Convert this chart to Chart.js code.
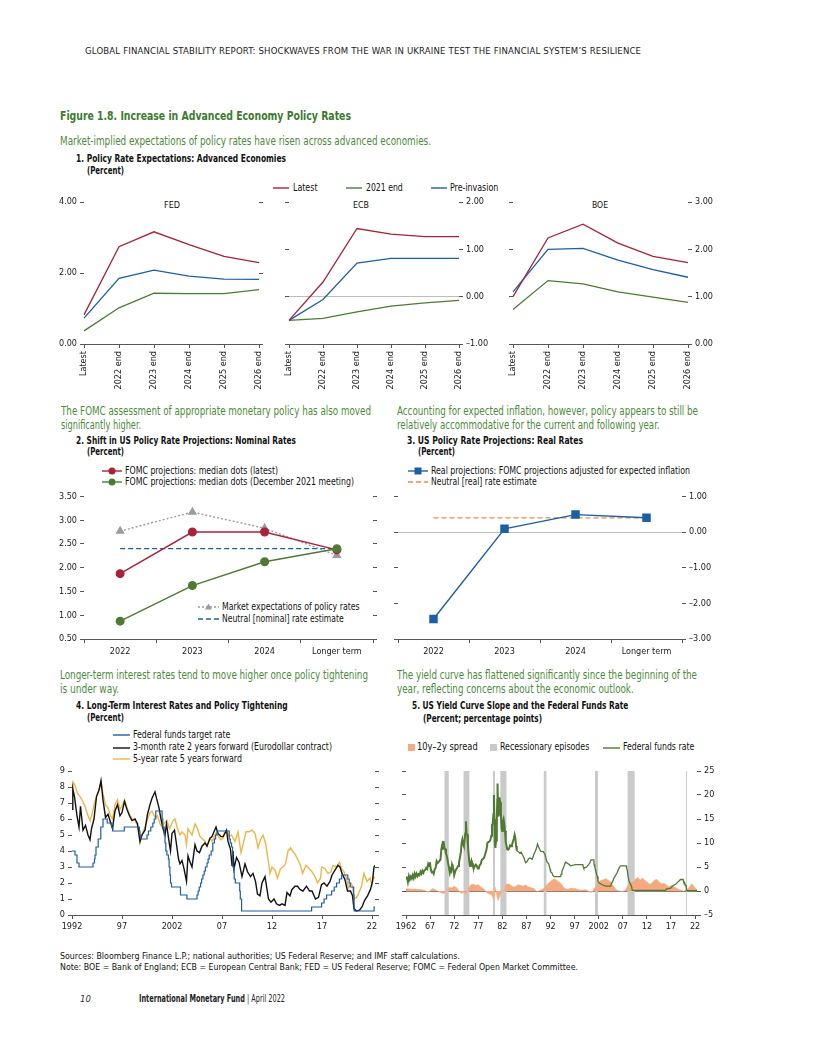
<!DOCTYPE html>
<html><head><meta charset="utf-8">
<script src="https://cdn.jsdelivr.net/npm/chart.js@4.4.1/dist/chart.umd.min.js"></script>
<style>
html,body{margin:0;padding:0;background:#fff}
body{width:816px;height:1056px;position:relative;overflow:hidden;font-family:"Liberation Sans Narrow","Arial Narrow","DejaVu Sans Condensed",sans-serif;color:#111}
.t{position:absolute;white-space:nowrap;line-height:1;transform-origin:0 50%}
.lead{color:#4d8a3c;font-size:12px}
.ttl{font-weight:bold;font-size:10px;color:#111}
.lg{font-size:10px;color:#111}
.sub{font-size:9.5px;color:#111}
.box{position:absolute}
svg.k{position:absolute;overflow:visible}
</style></head><body>

<div class="t" id="hdr" style="left:85px;top:46px;font-size:9.5px;color:#222">GLOBAL FINANCIAL STABILITY REPORT: SHOCKWAVES FROM THE WAR IN UKRAINE TEST THE FINANCIAL SYSTEM’S RESILIENCE</div>
<div class="t" data-w="291" style="left:60px;top:109px;font-size:13px;font-weight:bold;color:#3c7a2f">Figure 1.8. Increase in Advanced Economy Policy Rates</div>
<div class="t lead" data-w="371" style="left:60px;top:134.5px">Market-implied expectations of policy rates have risen across advanced economies.</div>
<div class="t ttl" data-w="210" style="left:76px;top:154px">1. Policy Rate Expectations: Advanced Economies</div>
<div class="t ttl" data-w="37" style="left:87px;top:166px">(Percent)</div>

<svg class="k" style="left:273px;top:185px" width="16" height="6"><line x1="0" y1="3" x2="16" y2="3" stroke="#a6233a" stroke-width="1.4"/></svg>
<div class="t lg" data-w="24.5" style="left:293px;top:183px">Latest</div>
<svg class="k" style="left:346px;top:185px" width="16" height="6"><line x1="0" y1="3" x2="16" y2="3" stroke="#4f7a33" stroke-width="1.4"/></svg>
<div class="t lg" data-w="36.7" style="left:366px;top:183px">2021 end</div>
<svg class="k" style="left:431px;top:185px" width="16" height="6"><line x1="0" y1="3" x2="16" y2="3" stroke="#1d5fa3" stroke-width="1.4"/></svg>
<div class="t lg" data-w="48.3" style="left:450px;top:183px">Pre-invasion</div>
<div class="t sub" data-w="16" data-c="172" style="top:200px">FED</div>
<div class="t sub" data-w="16" data-c="361" style="top:200px">ECB</div>
<div class="t sub" data-w="16" data-c="600" style="top:200px">BOE</div>

<div class="t lead" data-w="310" style="left:61px;top:404.5px">The FOMC assessment of appropriate monetary policy has also moved</div>
<div class="t lead" data-w="80" style="left:61px;top:419px">significantly higher.</div>
<div class="t ttl" data-w="220" style="left:76px;top:436px">2. Shift in US Policy Rate Projections: Nominal Rates</div>
<div class="t ttl" data-w="37" style="left:87px;top:447px">(Percent)</div>
<svg class="k" style="left:102px;top:466px" width="20" height="10"><line x1="0" y1="5" x2="20" y2="5" stroke="#a6233a" stroke-width="1.4"/><circle cx="10" cy="5" r="3.5" fill="#a6233a"/></svg>
<div class="t lg" data-w="153" style="left:125px;top:465.5px">FOMC projections: median dots (latest)</div>
<svg class="k" style="left:102px;top:477px" width="20" height="10"><line x1="0" y1="5" x2="20" y2="5" stroke="#4f7a33" stroke-width="1.4"/><circle cx="10" cy="5" r="3.5" fill="#4f7a33"/></svg>
<div class="t lg" data-w="229" style="left:125px;top:476.5px">FOMC projections: median dots (December 2021 meeting)</div>
<svg class="k" style="left:198px;top:602px" width="21" height="10"><line x1="0" y1="5" x2="21" y2="5" stroke="#9c9c9c" stroke-width="1.4" stroke-dasharray="2,2"/><polygon points="10.5,1.5 14,7.5 7,7.5" fill="#9c9c9c"/></svg>
<div class="t lg" data-w="137.7" style="left:222px;top:602px">Market expectations of policy rates</div>
<svg class="k" style="left:198px;top:614px" width="21" height="10"><line x1="0" y1="5" x2="21" y2="5" stroke="#1d5fa3" stroke-width="1.3" stroke-dasharray="5,3"/></svg>
<div class="t lg" data-w="121.7" style="left:222px;top:614px">Neutral [nominal] rate estimate</div>

<div class="t lead" data-w="301" style="left:397px;top:404.5px">Accounting for expected inflation, however, policy appears to still be</div>
<div class="t lead" data-w="262.6" style="left:397px;top:419px">relatively accommodative for the current and following year.</div>
<div class="t ttl" data-w="176" style="left:407px;top:436px">3. US Policy Rate Projections: Real Rates</div>
<div class="t ttl" data-w="37" style="left:418px;top:447px">(Percent)</div>
<svg class="k" style="left:408px;top:466px" width="20" height="10"><line x1="0" y1="5" x2="20" y2="5" stroke="#1d5fa3" stroke-width="1.4"/><rect x="6.5" y="1.5" width="7" height="7" fill="#1d5fa3"/></svg>
<div class="t lg" data-w="259" style="left:431px;top:465.5px">Real projections: FOMC projections adjusted for expected inflation</div>
<svg class="k" style="left:408px;top:477px" width="20" height="10"><line x1="0" y1="5" x2="20" y2="5" stroke="#f0894a" stroke-width="1.3" stroke-dasharray="5,3"/></svg>
<div class="t lg" data-w="105.7" style="left:431px;top:476.5px">Neutral [real] rate estimate</div>

<div class="t lead" data-w="308" style="left:60px;top:669px">Longer-term interest rates tend to move higher once policy tightening</div>
<div class="t lead" data-w="59" style="left:60px;top:683px">is under way.</div>
<div class="t ttl" data-w="211.7" style="left:76px;top:701px">4. Long-Term Interest Rates and Policy Tightening</div>
<div class="t ttl" data-w="37" style="left:87px;top:713px">(Percent)</div>
<svg class="k" style="left:113px;top:732px" width="17" height="6"><line x1="0" y1="3" x2="17" y2="3" stroke="#1d5fa3" stroke-width="1.4"/></svg>
<div class="t lg" data-w="97.3" style="left:133px;top:730px">Federal funds target rate</div>
<svg class="k" style="left:113px;top:744.5px" width="17" height="6"><line x1="0" y1="3" x2="17" y2="3" stroke="#111" stroke-width="1.4"/></svg>
<div class="t lg" data-w="199" style="left:133px;top:742px">3-month rate 2 years forward (Eurodollar contract)</div>
<svg class="k" style="left:113px;top:756px" width="17" height="6"><line x1="0" y1="3" x2="17" y2="3" stroke="#efb548" stroke-width="1.4"/></svg>
<div class="t lg" data-w="109" style="left:133px;top:754px">5-year rate 5 years forward</div>

<div class="t lead" data-w="300" style="left:397px;top:669px">The yield curve has flattened significantly since the beginning of the</div>
<div class="t lead" data-w="236.7" style="left:397px;top:683px">year, reflecting concerns about the economic outlook.</div>
<div class="t ttl" data-w="216.3" style="left:412px;top:701px">5. US Yield Curve Slope and the Federal Funds Rate</div>
<div class="t ttl" data-w="119" style="left:423px;top:713.5px">(Percent; percentage points)</div>
<svg class="k" style="left:408px;top:744px" width="7" height="7"><rect x="0" y="0" width="7" height="7" fill="#f5a97e"/></svg>
<div class="t lg" data-w="60.7" style="left:417px;top:742px">10y–2y spread</div>
<svg class="k" style="left:490px;top:744px" width="7" height="7"><rect x="0" y="0" width="7" height="7" fill="#c8c8c8"/></svg>
<div class="t lg" data-w="89.3" style="left:500px;top:742px">Recessionary episodes</div>
<svg class="k" style="left:603px;top:744.5px" width="17" height="6"><line x1="0" y1="3" x2="17" y2="3" stroke="#4f7a33" stroke-width="1.4"/></svg>
<div class="t lg" data-w="71.3" style="left:623px;top:742px">Federal funds rate</div>

<div class="t" data-w="400" style="left:60px;top:951px;font-size:9.5px">Sources: Bloomberg Finance L.P.; national authorities; US Federal Reserve; and IMF staff calculations.</div>
<div class="t" data-w="518" style="left:60px;top:962px;font-size:9.5px">Note: BOE = Bank of England; ECB = European Central Bank; FED = US Federal Reserve; FOMC = Federal Open Market Committee.</div>
<div class="t" style="left:80px;top:994px;font-size:9.5px;font-style:italic;color:#333">10</div>
<div class="t" data-w="146" style="left:139px;top:994px;font-size:10px;color:#222"><b>International Monetary Fund</b> | April 2022</div>

<div class="box" id="cFED"><canvas></canvas></div>
<div class="box" id="cECB"><canvas></canvas></div>
<div class="box" id="cBOE"><canvas></canvas></div>
<div class="box" id="cP2"><canvas></canvas></div>
<div class="box" id="cP3"><canvas></canvas></div>
<div class="box" id="cP4"><canvas></canvas></div>
<div class="box" id="cP5"><canvas></canvas></div>

<script>
// ---------- DATA ----------
const horizonCats = ['Latest','2022 end','2023 end','2024 end','2025 end','2026 end'];
const fedLatest = [0.82, 2.74, 3.16, 2.80, 2.47, 2.29];
const fedEnd2021 = [0.37, 1.02, 1.43, 1.42, 1.42, 1.53];
const fedPreInv = [0.73, 1.85, 2.08, 1.91, 1.83, 1.82];
const ecbLatest = [-0.50, 0.31, 1.44, 1.32, 1.27, 1.27];
const ecbEnd2021 = [-0.50, -0.46, -0.32, -0.20, -0.13, -0.08];
const ecbPreInv = [-0.50, -0.06, 0.71, 0.81, 0.81, 0.81];
const boeLatest = [1.00, 2.24, 2.53, 2.13, 1.85, 1.72];
const boeEnd2021 = [0.73, 1.34, 1.27, 1.10, 0.99, 0.88];
const boePreInv = [1.10, 2.00, 2.02, 1.77, 1.57, 1.41];

const projCats = ['2022','2023','2024','Longer term'];
const fomcLatest = [1.875, 2.75, 2.75, 2.375];
const fomcDec2021 = [0.875, 1.625, 2.125, 2.4];
const marketExp = [2.77, 3.17, 2.83, 2.26];
const neutralNominal = [2.4, 2.4, 2.4, 2.4];
const realProj = [-2.44, 0.09, 0.49, 0.40];
const neutralReal = [0.4, 0.4, 0.4, 0.4];

const p4TickYears = [1992,1997,2002,2007,2012,2017,2022];
const p4TickLabels = ['1992','97','2002','07','12','17','22'];
const fedTarget = [[1992.0,4.0],[1992.3,3.75],[1992.5,3.25],[1992.7,3.0],[1994.1,3.25],[1994.25,3.5],[1994.3,3.75],[1994.4,4.25],[1994.62,4.75],[1994.88,5.5],[1995.1,6.0],[1995.52,5.75],[1995.96,5.5],[1996.08,5.25],[1997.23,5.5],[1998.74,5.25],[1998.8,5.0],[1998.88,4.75],[1999.5,5.0],[1999.65,5.25],[1999.88,5.5],[2000.08,5.75],[2000.22,6.0],[2000.38,6.5],[2001.01,6.0],[2001.08,5.5],[2001.22,5.0],[2001.3,4.5],[2001.38,4.0],[2001.49,3.75],[2001.64,3.5],[2001.71,3.0],[2001.79,2.5],[2001.85,2.0],[2001.95,1.75],[2002.85,1.25],[2003.49,1.0],[2004.5,1.25],[2004.61,1.5],[2004.72,1.75],[2004.86,2.0],[2004.96,2.25],[2005.09,2.5],[2005.22,2.75],[2005.34,3.0],[2005.5,3.25],[2005.61,3.5],[2005.72,3.75],[2005.92,4.0],[2006.08,4.5],[2006.24,4.75],[2006.36,5.0],[2006.5,5.25],[2007.72,4.75],[2007.83,4.5],[2007.95,4.25],[2008.06,3.5],[2008.08,3.0],[2008.22,2.25],[2008.33,2.0],[2008.77,1.5],[2008.83,1.0],[2008.96,0.25],[2015.96,0.5],[2016.96,0.75],[2017.21,1.0],[2017.46,1.25],[2017.96,1.5],[2018.22,1.75],[2018.46,2.0],[2018.74,2.25],[2018.97,2.5],[2019.58,2.25],[2019.72,2.0],[2019.83,1.75],[2020.17,1.25],[2020.21,0.25],[2022.21,0.5],[2022.3,0.5]];
const eurodollar2y = [[1992.0,6.6],[1992.08,7.9],[1992.25,7.4],[1992.5,6.2],[1992.7,5.5],[1992.85,6.8],[1993.1,5.3],[1993.35,5.6],[1993.6,5.0],[1993.8,4.7],[1993.95,5.4],[1994.2,6.0],[1994.45,7.4],[1994.7,7.8],[1994.9,8.4],[1995.1,7.2],[1995.35,6.1],[1995.6,6.3],[1995.85,5.8],[1996.05,5.4],[1996.3,6.5],[1996.55,6.9],[1996.8,6.2],[1997.0,6.4],[1997.25,7.1],[1997.5,6.6],[1997.75,6.2],[1998.0,5.9],[1998.3,6.0],[1998.55,5.7],[1998.8,4.6],[1999.0,5.0],[1999.3,5.3],[1999.55,6.3],[1999.8,6.9],[2000.0,7.3],[2000.3,7.7],[2000.45,7.3],[2000.7,6.7],[2000.9,6.0],[2001.1,5.4],[2001.3,5.0],[2001.45,5.7],[2001.7,4.6],[2001.85,4.0],[2002.0,5.1],[2002.25,5.3],[2002.5,4.2],[2002.65,3.5],[2002.8,3.2],[2003.0,3.4],[2003.2,2.9],[2003.45,2.1],[2003.6,3.7],[2003.75,3.4],[2004.0,3.0],[2004.3,4.4],[2004.5,4.0],[2004.75,3.9],[2005.0,4.3],[2005.3,4.5],[2005.5,4.3],[2005.8,4.8],[2006.0,4.9],[2006.4,5.5],[2006.6,5.1],[2006.9,4.9],[2007.1,4.9],[2007.45,5.3],[2007.6,4.6],[2007.85,4.1],[2008.0,3.1],[2008.1,4.0],[2008.2,2.9],[2008.45,3.6],[2008.7,3.3],[2009.0,2.4],[2009.3,3.2],[2009.55,2.7],[2009.85,2.4],[2010.1,2.6],[2010.35,2.1],[2010.55,1.3],[2010.8,1.2],[2011.0,2.0],[2011.3,2.4],[2011.5,1.6],[2011.65,1.0],[2011.9,0.8],[2012.2,1.0],[2012.45,0.7],[2012.75,0.6],[2013.0,0.7],[2013.3,0.6],[2013.5,1.4],[2013.8,1.2],[2014.0,1.6],[2014.3,1.8],[2014.55,1.8],[2014.8,1.6],[2015.1,1.5],[2015.45,1.8],[2015.75,1.5],[2016.0,1.5],[2016.35,1.0],[2016.65,1.1],[2016.95,1.9],[2017.2,2.0],[2017.5,1.8],[2017.8,2.1],[2018.0,2.5],[2018.3,2.8],[2018.6,3.1],[2018.8,3.0],[2019.0,2.6],[2019.3,2.2],[2019.55,1.5],[2019.85,1.5],[2020.05,1.2],[2020.2,0.4],[2020.45,0.25],[2020.75,0.3],[2021.0,0.5],[2021.25,0.9],[2021.55,1.2],[2021.85,1.6],[2022.05,2.1],[2022.2,3.0],[2022.3,3.1]];
const fiveYearFiveYear = [[1992.0,8.0],[1992.1,8.3],[1992.3,8.1],[1992.55,7.6],[1992.8,7.4],[1993.0,7.2],[1993.3,6.8],[1993.55,6.3],[1993.8,5.9],[1994.0,6.3],[1994.25,7.0],[1994.5,7.5],[1994.75,7.9],[1994.9,8.3],[1995.1,7.6],[1995.35,6.9],[1995.6,6.7],[1995.85,6.2],[1996.05,6.0],[1996.3,6.9],[1996.55,7.2],[1996.8,6.6],[1997.0,6.8],[1997.25,7.2],[1997.5,6.7],[1997.75,6.3],[1998.0,6.0],[1998.3,5.9],[1998.55,5.6],[1998.8,4.5],[1999.0,5.0],[1999.3,5.5],[1999.55,6.0],[1999.8,6.4],[2000.0,6.5],[2000.3,6.1],[2000.55,6.2],[2000.8,5.7],[2001.0,5.5],[2001.3,5.8],[2001.5,5.9],[2001.75,5.4],[2001.9,5.6],[2002.1,5.9],[2002.3,6.0],[2002.55,5.4],[2002.8,5.0],[2003.0,5.2],[2003.3,5.0],[2003.45,4.4],[2003.6,5.4],[2003.8,5.2],[2004.0,5.0],[2004.3,5.7],[2004.55,5.4],[2004.8,4.9],[2005.0,4.8],[2005.3,4.6],[2005.5,4.3],[2005.8,4.8],[2006.0,4.6],[2006.4,5.1],[2006.65,4.9],[2006.9,4.7],[2007.1,4.8],[2007.45,5.3],[2007.7,4.9],[2007.95,5.0],[2008.3,4.6],[2008.6,5.2],[2008.9,3.9],[2009.1,4.4],[2009.4,5.2],[2009.7,5.2],[2010.0,5.3],[2010.3,5.1],[2010.6,4.2],[2010.85,4.7],[2011.1,5.0],[2011.35,4.5],[2011.6,3.5],[2011.8,2.6],[2012.0,3.0],[2012.3,2.8],[2012.55,2.3],[2012.85,2.9],[2013.1,3.0],[2013.35,3.2],[2013.6,4.0],[2013.85,4.2],[2014.05,4.0],[2014.3,3.8],[2014.55,3.5],[2014.85,3.1],[2015.05,2.6],[2015.4,3.1],[2015.7,2.9],[2016.0,2.7],[2016.3,2.4],[2016.55,2.0],[2016.85,2.3],[2016.97,3.0],[2017.3,2.9],[2017.6,2.6],[2017.9,2.7],[2018.1,3.1],[2018.45,3.0],[2018.75,3.3],[2018.95,2.9],[2019.2,2.7],[2019.45,2.3],[2019.65,1.7],[2019.9,2.0],[2020.05,1.8],[2020.2,1.0],[2020.45,1.1],[2020.7,1.4],[2020.95,1.8],[2021.2,2.6],[2021.5,2.1],[2021.8,2.3],[2022.0,1.9],[2022.15,2.4],[2022.3,2.3]];

const p5TickYears = [1962,1967,1972,1977,1982,1987,1992,1997,2002,2007,2012,2017,2022];
const p5TickLabels = ['1962','67','72','77','82','87','92','97','2002','07','12','17','22'];
const fedFundsRate = [[1962.0,2.6],[1962.2,3.0],[1962.4,1.9],[1962.6,3.1],[1962.8,2.4],[1963.0,3.0],[1963.2,2.6],[1963.4,3.3],[1963.6,2.7],[1963.8,3.6],[1964.0,3.0],[1964.2,3.6],[1964.4,3.1],[1964.6,3.5],[1964.8,3.3],[1965.0,4.0],[1965.2,3.6],[1965.4,4.2],[1965.6,3.8],[1965.8,4.3],[1966.0,4.4],[1966.2,4.8],[1966.4,4.6],[1966.6,5.6],[1966.8,5.2],[1966.95,6.0],[1967.15,4.5],[1967.35,3.9],[1967.55,4.0],[1967.75,3.6],[1967.95,4.5],[1968.15,4.8],[1968.35,6.2],[1968.55,5.8],[1968.75,6.0],[1968.95,6.3],[1969.15,6.5],[1969.35,8.8],[1969.5,9.5],[1969.65,8.6],[1969.8,10.4],[1969.95,9.0],[1970.1,8.8],[1970.3,7.8],[1970.5,7.2],[1970.7,6.0],[1970.9,5.0],[1971.1,3.8],[1971.25,4.5],[1971.4,4.2],[1971.55,5.5],[1971.7,5.0],[1971.85,4.5],[1972.0,3.3],[1972.2,4.0],[1972.4,4.5],[1972.6,4.8],[1972.8,5.2],[1973.0,5.9],[1973.2,7.0],[1973.4,8.2],[1973.55,10.0],[1973.7,10.7],[1973.85,9.8],[1974.0,9.4],[1974.15,10.5],[1974.3,12.0],[1974.45,14.5],[1974.55,12.0],[1974.7,11.8],[1974.85,9.5],[1975.0,7.5],[1975.15,6.0],[1975.3,5.2],[1975.45,5.6],[1975.6,6.3],[1975.75,5.8],[1975.9,5.2],[1976.1,4.8],[1976.3,5.3],[1976.5,5.5],[1976.7,5.2],[1976.9,4.7],[1977.1,4.7],[1977.3,5.4],[1977.5,5.6],[1977.7,6.4],[1977.9,6.6],[1978.1,6.8],[1978.3,7.2],[1978.5,7.9],[1978.7,8.6],[1978.9,10.0],[1979.1,10.2],[1979.3,10.3],[1979.5,10.6],[1979.7,11.5],[1979.85,13.8],[1980.0,14.0],[1980.15,16.0],[1980.25,20.0],[1980.35,15.0],[1980.45,10.0],[1980.55,9.0],[1980.7,10.5],[1980.85,15.0],[1980.95,19.0],[1981.0,22.4],[1981.1,17.0],[1981.25,15.5],[1981.4,19.5],[1981.55,18.5],[1981.7,16.0],[1981.85,13.0],[1981.95,12.5],[1982.1,14.5],[1982.25,15.0],[1982.4,14.0],[1982.55,12.5],[1982.7,10.2],[1982.85,9.5],[1983.0,8.7],[1983.2,8.6],[1983.4,8.9],[1983.6,9.5],[1983.8,9.3],[1984.0,9.6],[1984.2,10.3],[1984.4,11.0],[1984.55,11.7],[1984.7,11.0],[1984.85,9.4],[1985.0,8.4],[1985.3,8.2],[1985.6,7.9],[1985.9,8.1],[1986.2,7.5],[1986.5,6.9],[1986.8,5.9],[1987.1,6.1],[1987.4,6.7],[1987.7,6.9],[1987.9,6.8],[1988.2,6.6],[1988.5,7.5],[1988.8,8.2],[1989.1,9.0],[1989.3,9.8],[1989.5,9.2],[1989.8,8.6],[1990.0,8.25],[1990.5,8.2],[1990.85,7.6],[1991.0,7.0],[1991.3,6.0],[1991.6,5.7],[1991.9,4.6],[1992.0,4.0],[1992.3,3.75],[1992.5,3.25],[1992.75,3.0],[1994.1,3.0],[1994.2,3.5],[1994.35,3.75],[1994.4,4.25],[1994.65,4.75],[1994.9,5.5],[1995.1,6.0],[1995.55,5.75],[1995.95,5.5],[1996.1,5.25],[1997.2,5.5],[1998.7,5.5],[1998.8,5.0],[1998.9,4.75],[1999.5,5.0],[1999.65,5.25],[1999.9,5.5],[2000.1,5.75],[2000.2,6.0],[2000.4,6.5],[2000.99,6.5],[2001.05,5.5],[2001.2,5.0],[2001.3,4.5],[2001.4,4.0],[2001.5,3.75],[2001.7,3.0],[2001.85,2.0],[2001.95,1.75],[2002.85,1.25],[2003.5,1.0],[2004.5,1.0],[2004.6,1.5],[2004.9,2.0],[2005.2,2.75],[2005.5,3.25],[2005.8,3.75],[2006.1,4.5],[2006.5,5.25],[2007.7,5.25],[2007.8,4.75],[2007.95,4.25],[2008.1,3.0],[2008.3,2.0],[2008.8,1.0],[2008.96,0.15],[2015.9,0.15],[2016.0,0.4],[2016.96,0.6],[2017.2,0.9],[2017.45,1.15],[2017.96,1.4],[2018.2,1.65],[2018.45,1.9],[2018.72,2.15],[2018.97,2.4],[2019.5,2.4],[2019.58,2.1],[2019.72,1.9],[2019.83,1.55],[2020.17,1.1],[2020.21,0.08],[2022.2,0.08],[2022.28,0.33]];
const spread10y2y = [[1962.0,0.5],[1963,0.4],[1964,0.4],[1965,0.3],[1966,0.1],[1966.6,-0.3],[1967.0,0.1],[1967.5,0.5],[1968,0.3],[1968.8,-0.1],[1969.3,-0.4],[1969.9,-0.5],[1970.5,0.2],[1971.0,0.8],[1971.5,0.6],[1972.0,1.0],[1972.6,0.6],[1973.0,0.0],[1973.5,-0.5],[1974.0,-0.3],[1974.5,-0.6],[1975.0,0.8],[1975.5,1.3],[1976.0,1.4],[1976.5,1.2],[1977.0,1.3],[1977.6,0.8],[1978.2,0.4],[1978.7,-0.3],[1979.2,-0.6],[1979.8,-0.8],[1980.2,-1.8],[1980.5,0.8],[1980.9,-1.2],[1981.1,-2.0],[1981.5,-1.0],[1981.9,0.3],[1982.3,-0.2],[1982.8,1.4],[1983.3,1.5],[1983.8,1.2],[1984.3,0.8],[1984.8,1.0],[1985.3,1.3],[1985.8,1.2],[1986.3,1.0],[1986.8,1.3],[1987.3,0.9],[1987.8,0.8],[1988.3,0.6],[1988.8,0.3],[1989.2,-0.1],[1989.7,0.1],[1990.2,0.3],[1990.7,0.6],[1991.2,1.3],[1991.7,1.7],[1992.2,2.2],[1992.7,2.5],[1993.2,2.3],[1993.7,1.9],[1994.2,1.5],[1994.7,0.8],[1995.2,0.4],[1995.7,0.4],[1996.2,0.6],[1996.7,0.5],[1997.2,0.5],[1997.7,0.3],[1998.2,0.2],[1998.7,0.2],[1999.2,0.3],[1999.7,0.1],[2000.2,-0.3],[2000.7,-0.2],[2001.0,0.5],[2001.5,1.0],[2001.9,1.9],[2002.4,2.2],[2002.9,2.3],[2003.4,2.6],[2003.9,2.3],[2004.4,2.0],[2004.9,1.3],[2005.4,0.5],[2005.9,0.1],[2006.4,0.0],[2006.9,-0.1],[2007.4,0.1],[2007.8,0.6],[2008.2,1.5],[2008.7,1.8],[2009.2,1.8],[2009.6,2.5],[2010.1,2.8],[2010.6,2.3],[2011.1,2.7],[2011.6,2.2],[2012.1,1.8],[2012.6,1.4],[2013.1,1.7],[2013.6,2.3],[2014.1,2.4],[2014.6,1.8],[2015.1,1.5],[2015.6,1.6],[2016.1,1.2],[2016.6,0.9],[2017.1,1.2],[2017.6,0.9],[2018.1,0.6],[2018.6,0.3],[2019.1,0.2],[2019.6,0.0],[2020.1,0.2],[2020.6,0.5],[2021.1,1.2],[2021.3,1.5],[2021.6,1.2],[2021.9,0.8],[2022.1,0.5],[2022.25,0.2]];
const recessions = [[1969.95,1970.9],[1973.9,1975.2],[1980.0,1980.5],[1981.55,1982.9],[1990.55,1991.2],[2001.2,2001.9],[2007.95,2009.5],[2020.1,2020.3]];

// ---------- TEXT FITTING ----------
document.querySelectorAll('.t[data-w]').forEach(el => {
  const w = el.getBoundingClientRect().width;
  const target = parseFloat(el.dataset.w);
  const s = target / w;
  if (el.dataset.c) {
    el.style.left = (parseFloat(el.dataset.c) - target/2) + 'px';
  }
  el.style.transform = 'scaleX(' + s.toFixed(4) + ')';
});
(function(){
  const h = document.getElementById('hdr');
  const w = h.getBoundingClientRect().width;
  const n = h.textContent.length - 1;
  h.style.letterSpacing = ((556 - w)/n) + 'px';
})();

// ---------- STYLE ----------
const FONT = '"Liberation Sans Narrow","Arial Narrow","DejaVu Sans Condensed",sans-serif';
Chart.defaults.font.family = FONT;
Chart.defaults.font.size = 9;
Chart.defaults.color = '#1a1a1a';
Chart.defaults.animation = false;
const RED='#a6233a', GRN='#4f7a33', BLU='#1d5fa3', GRY='#9c9c9c', ORG='#f0894a', YEL='#efb548', BLK='#111111';
const TICK='#555';

const f2 = v => (v<0?'–':'') + Math.abs(v).toFixed(2);
const f0 = v => (v<0?'–':'') + Math.abs(v).toFixed(0);

function yScale(o){
  return {
    type:'linear', position:o.pos, min:o.min, max:o.max,
    ticks:{stepSize:o.step, padding:3, autoSkip:false, callback: v => o.labels ? o.fmt(v) : ''},
    border:{display:false},
    grid:{drawOnChartArea: !!o.zero, drawTicks:true, tickLength:4, tickColor:TICK, lineWidth:1,
      color: c => (o.zero && c.tick && Math.abs(c.tick.value)<1e-9) ? o.zero : 'rgba(0,0,0,0)'},
    afterFit: s => { s.width = o.w; }
  };
}
function catX(o){
  return {
    type:'category', position:'bottom', offset:o.offset,
    grid:{offset:o.offset, drawOnChartArea:false, tickLength:4, tickColor:TICK},
    border:{display:true, color:TICK, width:1},
    ticks:{autoSkip:false, maxRotation:o.rot, minRotation:o.rot, padding:o.pad},
    afterFit: s => { s.height = o.h; }
  };
}
function linX(o){
  return {
    type:'linear', position:'bottom', min:o.min, max:o.max,
    afterBuildTicks: s => { s.ticks = o.years.map(v => ({value:v})); },
    grid:{drawOnChartArea:false, tickLength:4, tickColor:TICK},
    border:{display:true, color:TICK, width:1},
    ticks:{autoSkip:false, maxRotation:0, minRotation:0, padding:2,
      callback: (v) => { const i = o.years.indexOf(v); return i>=0 ? o.labels[i] : ''; }},
    afterFit: s => { s.height = o.h; }
  };
}
function line(data, color, extra){
  return Object.assign({data, borderColor:color, backgroundColor:color, borderWidth:1.3, pointRadius:0, tension:0, fill:false}, extra||{});
}
const pts = arr => arr.map(p => ({x:p[0], y:p[1]}));

function make(id, rect, area, type, data, scales){
  const div = document.getElementById(id);
  Object.assign(div.style, {left:rect[0]+'px', top:rect[1]+'px', width:rect[2]+'px', height:rect[3]+'px'});
  new Chart(div.querySelector('canvas'), {
    type, data,
    options:{responsive:true, maintainAspectRatio:false, animation:false,
      layout:{padding:{top:area.T-rect[1], left:0, right:0, bottom:0}},
      plugins:{legend:{display:false}, tooltip:{enabled:false}},
      scales}
  });
}
function dims(rect, area){
  return {l: area.L-rect[0], r: rect[0]+rect[2]-area.R, h: rect[1]+rect[3]-area.B};
}

// ---------- PANEL 1 ----------
function panel1(id, rect, area, lat, e21, pre, rng){
  const d = dims(rect, area);
  make(id, rect, area, 'line', {labels:horizonCats, datasets:[
    line(lat, RED), line(pre, BLU), line(e21, GRN)
  ]}, {
    x: catX({offset:false, rot:90, h:d.h, pad:3}),
    y: yScale({pos:'right', min:rng[0], max:rng[1], step:1, labels:true, fmt:f2, w:d.r, zero: rng[0]<0 ? '#bdbdbd' : null}),
    y2: yScale({pos:'left', min:rng[0], max:rng[1], step:1, labels:false, fmt:f2, w:d.l})
  });
}
(function(){
  const rect=[40,192,236,203], area={L:84,R:259,T:202,B:344}; const d=dims(rect,area);
  make('cFED', rect, area, 'line', {labels:horizonCats, datasets:[
    line(fedLatest, RED), line(fedPreInv, BLU), line(fedEnd2021, GRN)
  ]}, {
    x: catX({offset:false, rot:90, h:d.h, pad:3}),
    y: yScale({pos:'left', min:0, max:4, step:2, labels:true, fmt:f2, w:d.l}),
    y2: yScale({pos:'right', min:0, max:4, step:2, labels:false, fmt:f2, w:d.r})
  });
})();
panel1('cECB', [276,192,224,203], {L:289,R:459,T:202,B:344}, ecbLatest, ecbEnd2021, ecbPreInv, [-1,2]);
panel1('cBOE', [500,192,225,203], {L:513,R:688,T:202,B:344}, boeLatest, boeEnd2021, boePreInv, [0,3]);

// ---------- PANEL 2 ----------
(function(){
  const rect=[40,488,350,172], area={L:84,R:373,T:495,B:639}; const d=dims(rect,area);
  make('cP2', rect, area, 'line', {labels:projCats, datasets:[
    line(fomcDec2021, GRN, {pointRadius:3.8, pointStyle:'circle', borderWidth:1.4}),
    line(fomcLatest, RED, {pointRadius:3.8, pointStyle:'circle', borderWidth:1.4}),
    line(marketExp, GRY, {pointRadius:4, pointStyle:'triangle', borderDash:[2,2], borderWidth:1.4}),
    line(neutralNominal, BLU, {borderDash:[5,3], borderWidth:1.3})
  ]}, {
    x: catX({offset:true, rot:0, h:d.h, pad:3}),
    y: yScale({pos:'left', min:0.5, max:3.5, step:0.5, labels:true, fmt:f2, w:d.l}),
    y2: yScale({pos:'right', min:0.5, max:3.5, step:0.5, labels:false, fmt:f2, w:d.r})
  });
})();

// ---------- PANEL 3 ----------
(function(){
  const rect=[385,488,340,172], area={L:398,R:682,T:495,B:639}; const d=dims(rect,area);
  make('cP3', rect, area, 'line', {labels:projCats, datasets:[
    line(realProj, BLU, {pointRadius:5, pointStyle:'rect', borderWidth:1.4}),
    line(neutralReal, ORG, {borderDash:[5,3], borderWidth:1.3})
  ]}, {
    x: catX({offset:true, rot:0, h:d.h, pad:3}),
    y: yScale({pos:'right', min:-3, max:1, step:1, labels:true, fmt:f2, w:d.r, zero:'#bdbdbd'}),
    y2: yScale({pos:'left', min:-3, max:1, step:1, labels:false, fmt:f2, w:d.l})
  });
})();

// ---------- PANEL 4 ----------
(function(){
  const rect=[38,762,347,172], area={L:72,R:375,T:771,B:915}; const d=dims(rect,area);
  make('cP4', rect, area, 'line', {datasets:[
    line(pts(fedTarget), BLU, {stepped:true, borderWidth:1.2}),
    line(pts(eurodollar2y), BLK, {borderWidth:1.4}),
    line(pts(fiveYearFiveYear), YEL, {borderWidth:1.4})
  ]}, {
    x: linX({min:1992, max:2022.3, years:p4TickYears, labels:p4TickLabels, h:d.h}),
    y: yScale({pos:'left', min:0, max:9, step:1, labels:true, fmt:f0, w:d.l}),
    y2: yScale({pos:'right', min:0, max:9, step:1, labels:false, fmt:f0, w:d.r})
  });
})();

// ---------- PANEL 5 ----------
(function(){
  const rect=[390,762,335,172], area={L:406,R:697,T:771,B:915}; const d=dims(rect,area);
  const recSets = recessions.map(r => ({data:[{x:r[0],y:25},{x:r[1],y:25}], fill:{value:-5}, backgroundColor:'#cacaca', borderWidth:0, pointRadius:0, yAxisID:'y'}));
  make('cP5', rect, area, 'line', {datasets:[
    line(pts(fedFundsRate), GRN, {borderWidth:1.3, yAxisID:'y',
      segment:{borderWidth: c => c.p0.parsed.x < 1984.9 ? 2.0 : 1.3}}),
    {data:pts(spread10y2y), fill:'origin', backgroundColor:'#f5a97e', borderColor:'#f5a97e', borderWidth:0.5, pointRadius:0, tension:0, yAxisID:'y'},
    ...recSets
  ]}, {
    x: linX({min:1962, max:2022.4, years:p5TickYears, labels:p5TickLabels, h:d.h}),
    y: yScale({pos:'right', min:-5, max:25, step:5, labels:true, fmt:f0, w:d.r, zero:'#8f807a'}),
    y2: yScale({pos:'left', min:-5, max:25, step:5, labels:false, fmt:f0, w:d.l})
  });
})();
</script>
</body></html>
